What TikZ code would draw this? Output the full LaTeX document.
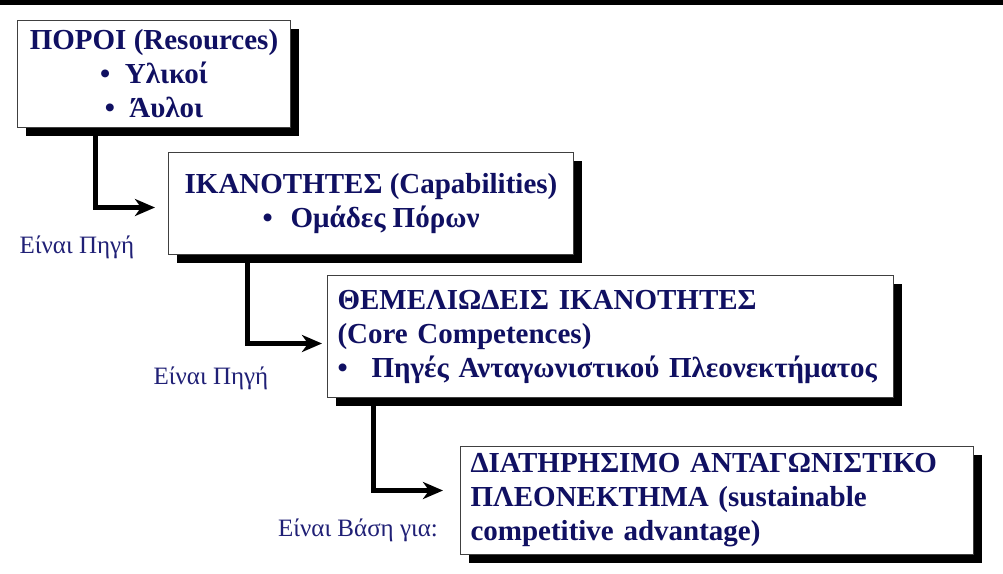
\documentclass[tikz,border=0pt]{standalone}
\usepackage{fontspec}
\setmainfont{Liberation Serif}
\usepackage{xcolor}
\definecolor{navy}{RGB}{16,16,98}
\definecolor{labelblue}{RGB}{32,32,118}
\usetikzlibrary{arrows.meta,positioning,calc,shadows}
\tikzset{
  fc_box/.style={rectangle,draw=black!75,line width=1pt,fill=white,
    drop shadow={shadow xshift=8pt,shadow yshift=-8pt,fill=black,opacity=1},
    text=navy,font=\fontsize{29}{34}\selectfont\bfseries,
    align=center,anchor=north west,inner sep=0pt},
  fc_left/.style={fc_box,align=left,inner xsep=10pt},
  fc_lbl/.style={text=labelblue,font=\fontsize{25}{28}\selectfont},
  arr/.style={-{Stealth[length=20pt,width=17pt,inset=6pt]},line width=5pt,draw=black},
}

\begin{document}
\begin{tikzpicture}[x=1pt,y=-1pt]
  \useasboundingbox (0,0) rectangle (1003,573);
  \fill[black] (0,0) rectangle (1003,5);
  \node (res) [fc_box,minimum width=273pt,minimum height=107pt] at (17,20)
    {ΠΟΡΟΙ (Resources)\\ •\enskip Υλικοί\\ •\enskip Άυλοι};
  \node (cap) [fc_box,minimum width=405pt,minimum height=102pt] at (168,152)
    {ΙΚΑΝΟΤΗΤΕΣ (Capabilities)\\ •\hspace{18pt}Ομάδες Πόρων};
  \node (core) [fc_left,text width=546pt,minimum height=122pt] at (327,275)
    {ΘΕΜΕΛΙΩΔΕΙΣ ΙΚΑΝΟΤΗΤΕΣ\\ (Core Competences)\\
     •\hspace{24pt}Πηγές Ανταγωνιστικού Πλεονεκτήματος};
  \node (sca) [fc_left,text width=493pt,minimum height=108pt] at (460,446)
    {ΔΙΑΤΗΡΗΣΙΜΟ ΑΝΤΑΓΩΝΙΣΤΙΚΟ\\ ΠΛΕΟΝΕΚΤΗΜΑ (sustainable\\
     competitive advantage)};
  \node (src1) [fc_lbl] at (77,247) {Είναι Πηγή};
  \node (src2) [fc_lbl] at (211,378) {Είναι Πηγή};
  \node (base) [fc_lbl] at (358,530) {Είναι Βάση για:};
  \draw[arr,shorten >=13pt] ([xshift=78pt]res.south west) |- ([yshift=-4pt]cap.west);
  \draw[arr,shorten >=5pt] ([xshift=79pt]cap.south west) |- ([yshift=-7pt]core.west);
  \draw[arr,shorten >=17pt] ([xshift=46pt]core.south west) |- ([yshift=10pt]sca.west);
\end{tikzpicture}
\end{document}
